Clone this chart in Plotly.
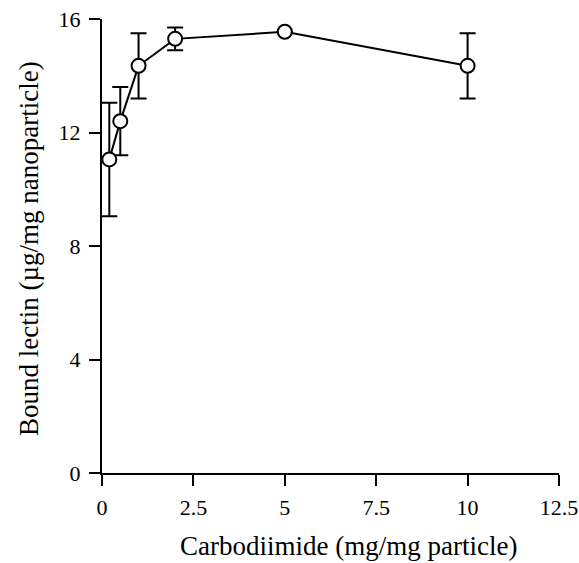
import plotly.graph_objects as go

carbodiimide = [0.2, 0.5, 1.0, 2.0, 5.0, 10.0]
bound_lectin = [11.05, 12.4, 14.35, 15.3, 15.55, 14.35]
error = [2.0, 1.2, 1.15, 0.4, 0.0, 1.15]

x_ticks = [0, 2.5, 5, 7.5, 10, 12.5]
x_tick_labels = ["0", "2.5", "5", "7.5", "10", "12.5"]
y_ticks = [0, 4, 8, 12, 16]

x_title = "Carbodiimide (mg/mg particle)"
y_title = "Bound lectin (µg/mg nanoparticle)"

fig = go.Figure()
fig.add_trace(go.Scatter(
    x=carbodiimide, y=bound_lectin,
    mode="lines+markers",
    line=dict(color="black", width=2),
    marker=dict(symbol="circle", size=14, color="white",
                line=dict(color="black", width=2)),
    error_y=dict(type="data", array=error, visible=True,
                 color="black", thickness=2, width=8),
    cliponaxis=False,
    showlegend=False,
))

font = dict(family="Liberation Serif, Times New Roman, serif", color="black")
fig.update_layout(
    width=579, height=563,
    margin=dict(l=102, r=20, t=19, b=90),
    paper_bgcolor="white", plot_bgcolor="white",
    font=font,
    xaxis=dict(
        range=[0, 12.5], tickvals=x_ticks, ticktext=x_tick_labels,
        automargin=False,
        showgrid=False, zeroline=False, showline=True,
        linecolor="black", linewidth=2,
        ticks="outside", ticklen=11, tickwidth=2, tickcolor="black",
        ticklabelstandoff=3,
        tickfont=dict(size=22, **font),
    ),
    yaxis=dict(
        range=[0, 16], tickvals=y_ticks,
        automargin=False,
        showgrid=False, zeroline=False, showline=True,
        linecolor="black", linewidth=2,
        ticks="outside", ticklen=11, tickwidth=2, tickcolor="black",
        ticklabelstandoff=4,
        tickfont=dict(size=22, **font),
    ),
    annotations=[
        dict(text=x_title, xref="paper", yref="paper",
             x=(348 - 102) / 457, y=0, xanchor="center", yanchor="middle",
             yshift=-73, showarrow=False, font=dict(size=27, **font)),
        dict(text=y_title, xref="paper", yref="paper",
             x=0, y=0.5, xanchor="center", yanchor="middle",
             xshift=-73, yshift=-3, textangle=-90, showarrow=False,
             font=dict(size=27, **font)),
    ],
)

fig.write_html("out.html")
